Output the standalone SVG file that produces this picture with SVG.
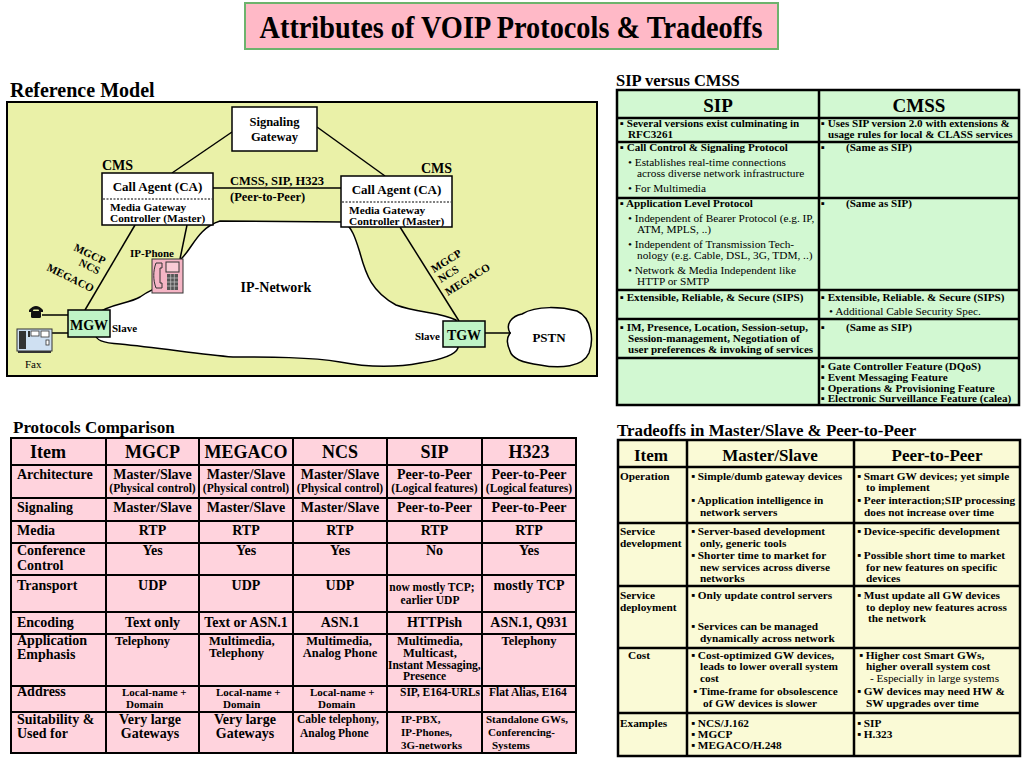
<svg xmlns="http://www.w3.org/2000/svg" width="1024" height="768" viewBox="0 0 1024 768">
<style>
.b{font-family:"Liberation Serif","Times New Roman",serif;font-weight:bold;fill:#000}
.r{font-family:"Liberation Serif","Times New Roman",serif;font-weight:normal;fill:#000}
.c{text-anchor:middle}
.e{text-anchor:end}
.ln{stroke:#000;stroke-width:1.5;fill:none}
.box{fill:#fff;stroke:#000;stroke-width:1.5}
.gw{fill:#BFF3C6;stroke:#000;stroke-width:1.5}
.dot{stroke:#000;stroke-width:1;stroke-dasharray:2,1.5}
.tb{stroke:#000;stroke-width:2.5;fill:none}
.tp{stroke:#000;stroke-width:2;fill:none}
.s105{font-size:11.1px}
.s11{font-size:11px}
.s113{font-size:11.3px}
.s12{font-size:12.5px}
.s14{font-size:14px}
.s17{font-size:17px}
.s18{font-size:18px}
</style>
<rect width="1024" height="768" fill="#fff"/>

<!-- Title -->
<g id="title">
<rect x="245" y="3" width="533" height="46" fill="#FFB9C7" stroke="#6DB36D" stroke-width="2"/>
<text x="511" y="38" class="b c" font-size="32" textLength="503" lengthAdjust="spacingAndGlyphs">Attributes of VOIP Protocols &amp; Tradeoffs</text>
</g>

<!-- Reference Model -->
<g id="reference-model">
<text x="10" y="97" class="b" font-size="20">Reference Model</text>
<rect x="7" y="102" width="590" height="274" fill="#EAF1A8" stroke="#000" stroke-width="2"/>
</g>

<g id="ip-network">
<path d="M97,314 C108,304 128,304 140,297 C147,292 152,290 156,288 L182,258 C193,247 198,228 220,221 L343,222 C352,226 356,240 360,253 C366,275 372,292 396,305 C418,313 440,312 456,320 L458,348 C455,356 440,360 420,363 C400,367 370,368 340,362 C310,357 270,357 233,357 C200,354 160,348 120,344 C102,343 96,340 95,334 Z" fill="#fff" stroke="#000" stroke-width="1.5"/>
<text x="276" y="292" class="b s14 c">IP-Network</text>
</g>

<g id="pstn">
<path d="M510,333 C505,324 512,316 522,314 C537,305 562,307 577,311 C592,318 594,340 589,353 C583,367 560,369 540,365 C524,363 512,359 510,351 C507,344 506,339 510,333 Z" fill="#fff" stroke="#000" stroke-width="1.5"/>
<text x="549" y="342" class="b c" font-size="13">PSTN</text>
</g>

<g id="connectors">
<line class="ln" x1="232" y1="132" x2="172" y2="173"/>
<line class="ln" x1="317" y1="127" x2="385" y2="176"/>
<line class="ln" x1="213" y1="188" x2="341" y2="188"/>
<line class="ln" x1="135" y1="225" x2="85" y2="310"/>
<line class="ln" x1="187" y1="225" x2="180" y2="259"/>
<line class="ln" x1="400" y1="227" x2="459" y2="321"/>
<line class="ln" x1="42" y1="315" x2="68" y2="315"/>
<line class="ln" x1="52" y1="333" x2="68" y2="333"/>
<line class="ln" x1="485" y1="333" x2="511" y2="333"/>
<text x="230" y="185" class="b s12">CMSS, SIP, H323</text>
<text x="230" y="201" class="b s12">(Peer-to-Peer)</text>
<g class="b s11">
<text transform="translate(73,250) rotate(26)">MGCP</text>
<text transform="translate(78,265) rotate(26)">NCS</text>
<text transform="translate(46,270) rotate(26)">MEGACO</text>
<text transform="translate(434,273) rotate(-32)">MGCP</text>
<text transform="translate(441,283) rotate(-32)">NCS</text>
<text transform="translate(448,296) rotate(-32)">MEGACO</text>
</g>
</g>

<g id="signaling-gateway">
<rect class="box" x="232" y="107" width="85" height="44"/>
<text x="274.5" y="126" class="b s12 c">Signaling</text>
<text x="274.5" y="141" class="b s12 c">Gateway</text>
</g>

<g id="call-agent-left">
<text x="102" y="170" class="b s14">CMS</text>
<rect class="box" x="102" y="173" width="111" height="52"/>
<line class="dot" x1="103" y1="199" x2="212" y2="199"/>
<text x="157.5" y="191" class="b c" font-size="13">Call Agent (CA)</text>
<text x="110" y="211" class="b" font-size="11.3">Media Gateway</text>
<text x="110" y="222" class="b" font-size="11.3">Controller (Master)</text>
</g>

<g id="call-agent-right">
<text x="452" y="173" class="b s14 e">CMS</text>
<rect class="box" x="341" y="176" width="111" height="51"/>
<line class="dot" x1="342" y1="202" x2="451" y2="202"/>
<text x="396.5" y="194" class="b c" font-size="13">Call Agent (CA)</text>
<text x="349" y="214" class="b" font-size="11.3">Media Gateway</text>
<text x="349" y="225" class="b" font-size="11.3">Controller (Master)</text>
</g>

<g id="mgw">
<rect class="gw" x="68" y="310" width="42" height="27"/>
<text x="89" y="330" class="b s14 c">MGW</text>
<text x="112" y="332" class="b s11">Slave</text>
</g>

<g id="tgw">
<rect class="gw" x="443" y="321" width="42" height="26"/>
<text x="464" y="340" class="b s14 c">TGW</text>
<text x="440" y="340" class="b s11 e">Slave</text>
</g>

<g id="ip-phone">
<text x="130" y="257" class="b s11">IP-Phone</text>
<rect x="152" y="259" width="31" height="34" fill="#F5B5C5" stroke="#333" stroke-width="1"/>
<path d="M156,263 h6 v5 h-2 v15 h2 v5 h-6 c-3,-8 -3,-17 0,-25 Z" fill="none" stroke="#333" stroke-width="1"/>
<rect x="166" y="262" width="13" height="10" fill="#F9CCD6" stroke="#333" stroke-width="1"/>
<rect x="167" y="274" width="11" height="16" fill="#555"/>
<g stroke="#ccc" stroke-width="0.7">
<line x1="167" y1="278" x2="178" y2="278"/><line x1="167" y1="282" x2="178" y2="282"/><line x1="167" y1="286" x2="178" y2="286"/>
<line x1="170.7" y1="274" x2="170.7" y2="290"/><line x1="174.3" y1="274" x2="174.3" y2="290"/>
</g>
</g>

<g id="telephone">
<path d="M29,310 Q36,302 43,310 L43,312 L39.5,312 L38.5,309.5 L33.5,309.5 L32.5,312 L29,312 Z" fill="#111"/>
<rect x="31" y="311" width="10" height="7" rx="1.5" fill="#111"/>
</g>

<g id="fax">
<rect x="17" y="329" width="35" height="22" fill="#CFE0F2" stroke="#333" stroke-width="1"/>
<rect x="19" y="331" width="7" height="18" fill="#333"/>
<rect x="28" y="331" width="2" height="6" fill="#333"/>
<rect x="31" y="331" width="8" height="5" fill="#fff" stroke="#333" stroke-width="0.8"/>
<rect x="41" y="331" width="8" height="6" fill="#fff" stroke="#333" stroke-width="0.8"/>
<rect x="46" y="340" width="3" height="5" fill="#fff" stroke="#333" stroke-width="0.8"/>
<rect x="18" y="351" width="33" height="2" fill="#333"/>
<text x="25" y="368" class="r s11">Fax</text>
</g>

<!-- SIP versus CMSS -->
<g id="sip-vs-cmss">
<text x="616" y="86" class="b" font-size="16.5">SIP versus CMSS</text>
<rect x="617" y="90" width="402" height="315" fill="#D2F8D2"/>
<g class="tb">
<rect x="617" y="90" width="402" height="315"/>
<line x1="819" y1="90" x2="819" y2="405"/>
<line x1="617" y1="118" x2="1019" y2="118"/>
<line x1="617" y1="142" x2="1019" y2="142"/>
<line x1="617" y1="198" x2="1019" y2="198"/>
<line x1="617" y1="290" x2="1019" y2="290"/>
<line x1="617" y1="319" x2="1019" y2="319"/>
<line x1="617" y1="358" x2="1019" y2="358"/>
</g>
<text x="718" y="112" class="b c" font-size="19">SIP</text>
<text x="919" y="112" class="b c" font-size="19">CMSS</text>
<g class="b s105">
<text x="620" y="127">▪ Several versions exist culminating in</text>
<text x="628" y="138">RFC3261</text>
<text x="821" y="127">▪ Uses SIP version 2.0 with extensions &amp;</text>
<text x="828" y="138">usage rules for local &amp; CLASS services</text>
<text x="620" y="151">▪ Call Control &amp; Signaling Protocol</text>
<text x="821" y="151">▪</text><text x="846" y="151">(Same as SIP)</text>
<text x="620" y="207">▪ Application Level Protocol</text>
<text x="821" y="207">▪</text><text x="846" y="207">(Same as SIP)</text>
<text x="620" y="301">▪ Extensible, Reliable, &amp; Secure (SIPS)</text>
<text x="821" y="301">▪ Extensible, Reliable. &amp; Secure (SIPS)</text>
<text x="620" y="331">▪ IM, Presence, Location, Session-setup,</text>
<text x="628" y="342">Session-management, Negotiation of</text>
<text x="628" y="353">user preferences &amp; invoking of services</text>
<text x="821" y="331">▪</text><text x="846" y="331">(Same as SIP)</text>
<text x="821" y="370">▪ Gate Controller Feature (DQoS)</text>
<text x="821" y="381">▪ Event Messaging Feature</text>
<text x="821" y="391.5">▪ Operations &amp; Provisioning Feature</text>
<text x="821" y="402">▪ Electronic Surveillance Feature (calea)</text>
</g>
<g class="r" font-size="11.3">
<text x="628" y="166">• Establishes real-time connections</text>
<text x="637" y="177">across diverse network infrastructure</text>
<text x="628" y="192">• For Multimedia</text>
<text x="628" y="222">• Independent of Bearer Protocol (e.g. IP,</text>
<text x="637" y="233">ATM, MPLS, ..)</text>
<text x="628" y="248">• Independent of Transmission Tech-</text>
<text x="637" y="259">nology (e.g. Cable, DSL, 3G, TDM, ..)</text>
<text x="628" y="274">• Network &amp; Media Independent like</text>
<text x="637" y="285">HTTP or SMTP</text>
<text x="829" y="315">• Additional Cable Security Spec.</text>
</g>
</g>

<!-- Protocols Comparison -->
<g id="protocols-comparison">
<text x="13" y="433" class="b s17">Protocols Comparison</text>
<rect x="11" y="438" width="565" height="315" fill="#FFD3DD"/>
<g class="tp">
<rect x="11" y="438" width="565" height="315"/>
<line x1="106" y1="438" x2="106" y2="753"/>
<line x1="199" y1="438" x2="199" y2="753"/>
<line x1="293" y1="438" x2="293" y2="753"/>
<line x1="387" y1="438" x2="387" y2="753"/>
<line x1="482" y1="438" x2="482" y2="753"/>
<line x1="11" y1="465" x2="576" y2="465"/>
<line x1="11" y1="498" x2="576" y2="498"/>
<line x1="11" y1="521" x2="576" y2="521"/>
<line x1="11" y1="543" x2="576" y2="543"/>
<line x1="11" y1="575" x2="576" y2="575"/>
<line x1="11" y1="612" x2="576" y2="612"/>
<line x1="11" y1="634" x2="576" y2="634"/>
<line x1="11" y1="686" x2="576" y2="686"/>
<line x1="11" y1="712" x2="576" y2="712"/>
</g>
<g class="b s18">
<text x="30" y="458">Item</text>
<text x="152.5" y="458" class="c">MGCP</text>
<text x="246" y="458" class="c">MEGACO</text>
<text x="340" y="458" class="c">NCS</text>
<text x="434.5" y="458" class="c">SIP</text>
<text x="529" y="458" class="c">H323</text>
</g>
<g class="b s14">
<text x="17" y="479">Architecture</text>
<text x="17" y="512">Signaling</text>
<text x="17" y="535">Media</text>
<text x="17" y="555">Conference</text>
<text x="17" y="570">Control</text>
<text x="17" y="590">Transport</text>
<text x="17" y="627">Encoding</text>
<text x="17" y="645">Application</text>
<text x="17" y="659">Emphasis</text>
<text x="17" y="696">Address</text>
<text x="17" y="724">Suitability &amp;</text>
<text x="17" y="738">Used for</text>
</g>
<g class="b s14 c">
<text x="152.5" y="479">Master/Slave</text>
<text x="246" y="479">Master/Slave</text>
<text x="340" y="479">Master/Slave</text>
<text x="434.5" y="479">Peer-to-Peer</text>
<text x="529" y="479">Peer-to-Peer</text>
<text x="152.5" y="512">Master/Slave</text>
<text x="246" y="512">Master/Slave</text>
<text x="340" y="512">Master/Slave</text>
<text x="434.5" y="512">Peer-to-Peer</text>
<text x="529" y="512">Peer-to-Peer</text>
<text x="152.5" y="535">RTP</text>
<text x="246" y="535">RTP</text>
<text x="340" y="535">RTP</text>
<text x="434.5" y="535">RTP</text>
<text x="529" y="535">RTP</text>
<text x="152.5" y="555">Yes</text>
<text x="246" y="555">Yes</text>
<text x="340" y="555">Yes</text>
<text x="434.5" y="555">No</text>
<text x="529" y="555">Yes</text>
<text x="152.5" y="590">UDP</text>
<text x="246" y="590">UDP</text>
<text x="340" y="590">UDP</text>
<text x="529" y="590">mostly TCP</text>
<text x="152.5" y="627">Text only</text>
<text x="246" y="627">Text or ASN.1</text>
<text x="340" y="627">ASN.1</text>
<text x="434.5" y="627">HTTPish</text>
<text x="529" y="627">ASN.1, Q931</text>
<text x="150" y="724">Very large</text>
<text x="150" y="738">Gateways</text>
<text x="245" y="724">Very large</text>
<text x="245" y="738">Gateways</text>
</g>
<g class="b c" font-size="11.5">
<text x="152.5" y="492">(Physical control)</text>
<text x="246" y="492">(Physical control)</text>
<text x="340" y="492">(Physical control)</text>
<text x="434.5" y="492">(Logical features)</text>
<text x="529" y="492">(Logical features)</text>
<text x="432" y="591">now mostly TCP;</text>
<text x="430" y="604">earlier UDP</text>
</g>
<g class="b s12">
<text x="115" y="645">Telephony</text>
<text x="209" y="645">Multimedia,</text>
<text x="209" y="657">Telephony</text>
<text x="339" y="645" class="c">Multimedia,</text>
<text x="340" y="657" class="c">Analog Phone</text>
<text x="397" y="645">Multimedia,</text>
<text x="403" y="657">Multicast,</text>
<text x="388" y="669" font-size="11.5">Instant Messaging,</text>
<text x="403" y="680" font-size="11.5">Presence</text>
<text x="529" y="645" class="c">Telephony</text>
</g>
<g class="b s11">
<text x="122" y="696">Local-name +</text>
<text x="126" y="708">Domain</text>
<text x="216" y="696">Local-name +</text>
<text x="223" y="708">Domain</text>
<text x="310" y="696">Local-name +</text>
<text x="318" y="708">Domain</text>
<text x="400" y="696" font-size="11.5">SIP, E164-URLs</text>
<text x="489" y="696" font-size="11.5">Flat Alias, E164</text>
<text x="297" y="723" font-size="11.5">Cable telephony,</text>
<text x="300" y="737" font-size="11.5">Analog Phone</text>
<text x="401" y="723">IP-PBX,</text>
<text x="401" y="736">IP-Phones,</text>
<text x="401" y="749">3G-networks</text>
<text x="486" y="723">Standalone GWs,</text>
<text x="488" y="736">Conferencing-</text>
<text x="492" y="749">Systems</text>
</g>
</g>

<!-- Tradeoffs -->
<g id="tradeoffs">
<text x="617" y="436" class="b" font-size="16.9">Tradeoffs in Master/Slave &amp; Peer-to-Peer</text>
<rect x="618" y="440" width="402" height="316" fill="#FAFAD6"/>
<g class="tb">
<rect x="618" y="440" width="402" height="316"/>
<line x1="687" y1="440" x2="687" y2="756"/>
<line x1="854" y1="440" x2="854" y2="756"/>
<line x1="618" y1="467" x2="1020" y2="467"/>
<line x1="618" y1="523" x2="1020" y2="523"/>
<line x1="618" y1="586" x2="1020" y2="586"/>
<line x1="618" y1="648" x2="1020" y2="648"/>
<line x1="618" y1="713" x2="1020" y2="713"/>
</g>
<g class="b s17 c">
<text x="651" y="461">Item</text>
<text x="770" y="461">Master/Slave</text>
<text x="937" y="461">Peer-to-Peer</text>
</g>
<g class="b s113">
<text x="620" y="480">Operation</text>
<text x="620" y="535">Service</text>
<text x="620" y="547">development</text>
<text x="620" y="599">Service</text>
<text x="620" y="611">deployment</text>
<text x="628" y="659">Cost</text>
<text x="620" y="727">Examples</text>

<text x="691" y="480">▪ Simple/dumb gateway devices</text>
<text x="691" y="504">▪ Application intelligence in</text>
<text x="700" y="516">network servers</text>
<text x="691" y="535">▪ Server-based development</text>
<text x="700" y="547">only, generic tools</text>
<text x="691" y="559">▪ Shorter time to market for</text>
<text x="700" y="571">new services across diverse</text>
<text x="700" y="582">networks</text>
<text x="691" y="599">▪ Only update control servers</text>
<text x="691" y="630">▪ Services can be managed</text>
<text x="700" y="642">dynamically across network</text>
<text x="691" y="659">▪ Cost-optimized GW devices,</text>
<text x="700" y="670">leads to lower overall system</text>
<text x="700" y="682">cost</text>
<text x="693" y="695">▪ Time-frame for obsolescence</text>
<text x="703" y="707">of GW devices is slower</text>
<text x="691" y="727">▪ NCS/J.162</text>
<text x="691" y="738">▪ MGCP</text>
<text x="691" y="749">▪ MEGACO/H.248</text>

<text x="857" y="480">▪ Smart GW devices; yet simple</text>
<text x="866" y="491">to implement</text>
<text x="857" y="504">▪ Peer interaction;SIP processing</text>
<text x="864" y="516">does not increase over time</text>
<text x="857" y="535">▪ Device-specific development</text>
<text x="857" y="559">▪ Possible short time to market</text>
<text x="866" y="571">for new features on specific</text>
<text x="866" y="582">devices</text>
<text x="857" y="599">▪ Must update all GW devices</text>
<text x="866" y="611">to deploy new features across</text>
<text x="868" y="622">the network</text>
<text x="859" y="659">▪ Higher cost Smart GWs,</text>
<text x="866" y="670">higher overall system cost</text>
<text x="857" y="695">▪ GW devices may need HW &amp;</text>
<text x="866" y="707">SW upgrades over time</text>
<text x="857" y="727">▪ SIP</text>
<text x="857" y="738">▪ H.323</text>
</g>
<text x="870" y="682" class="r s113">- Especially in large systems</text>
</g>
</svg>
